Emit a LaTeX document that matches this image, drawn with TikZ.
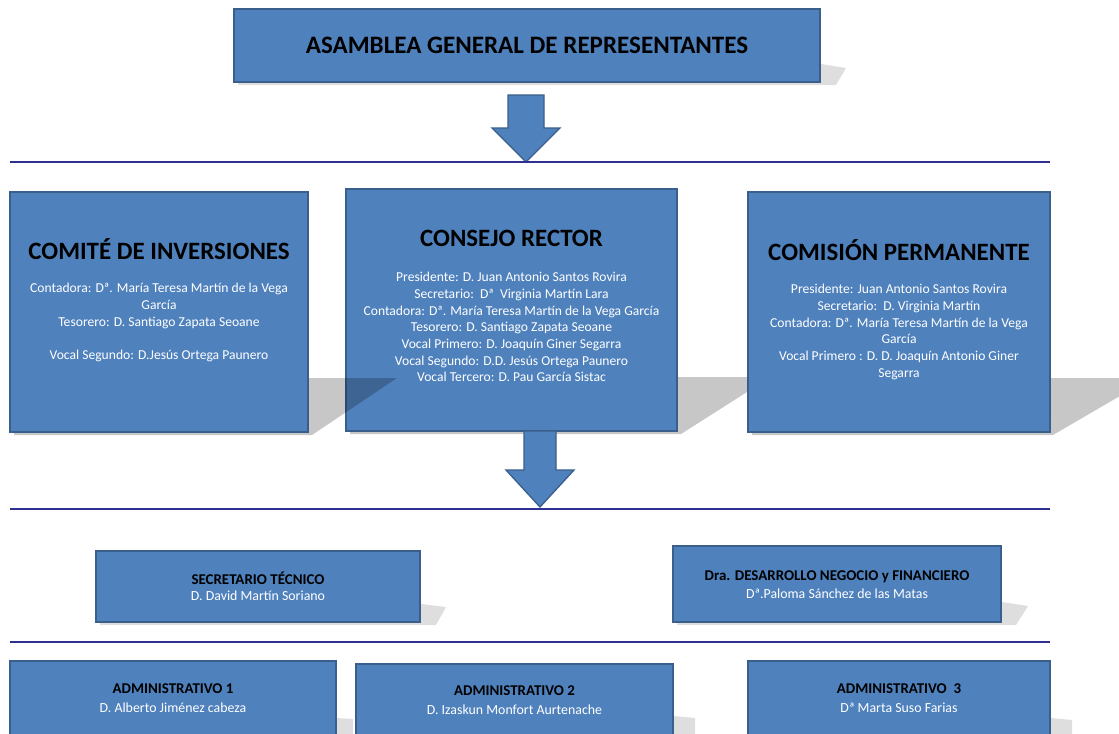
\documentclass[tikz,border=0pt]{standalone}
\usepackage{fontspec}
\setmainfont{Carlito}
\usetikzlibrary{positioning}

\definecolor{cajaazul}{HTML}{4F81BD}
\definecolor{bordeazul}{HTML}{3A5F8C}
\definecolor{lineaazul}{HTML}{2E3192}

\tikzset{
  caja/.style={draw=bordeazul,fill=cajaazul,line width=1.4pt,inner sep=0pt},
  sombra/.style={fill=black,fill opacity=0.22,draw=none},
  sombrita/.style={fill=black,fill opacity=0.13,draw=none},
  raya/.style={draw=lineaazul,line width=2.2pt},
  flecha/.style={draw=bordeazul,fill=cajaazul,line width=1pt,line join=miter},
  cabeza/.style={font=\bfseries\fontsize{18.7}{22}\selectfont,text=black,inner sep=0pt},
  cuerpo/.style={font=\fontsize{10.2}{12.5}\selectfont,text=white,align=center,inner sep=0pt,anchor=north},
  cabezita/.style={font=\bfseries\fontsize{11.2}{13}\selectfont,text=black,inner sep=0pt},
  nombre/.style={font=\fontsize{10.4}{12}\selectfont,text=white,inner sep=0pt}
}

\begin{document}
\begin{tikzpicture}[x=0.75pt,y=-0.75pt]
    \clip (0,0) rectangle (1119,733);
    \fill[white] (0,0) rectangle (1119,733);

    % asamblea
    \node[caja,minimum width=439.5pt,minimum height=54.75pt] (asamblea) at (527,45.5)
      {\bfseries\fontsize{18.8}{22}\selectfont ASAMBLEA GENERAL DE REPRESENTANTES};
    \fill[sombrita] (821,64) -- (846,68) -- (836,85) -- (238,85) -- (238,83) -- (821,83) -- cycle;
    \coordinate (punta1) at (526,162);
    \draw[flecha] (punta1) -- ++(-34,-34) -- ++(16,0) -- ++(0,-33) -- ++(36,0)
      -- ++(0,33) -- ++(16,0) -- cycle;
    \draw[raya] (10,162) -- (1050,162);

    % organos de gobierno
    \node[caja,minimum width=223.5pt,minimum height=180pt] (comite) at (159,312) {};
    \node[caja,minimum width=248.25pt,minimum height=181.5pt] (consejo) at (511.5,310) {};
    \node[caja,minimum width=226.5pt,minimum height=180pt] (comision) at (899,312) {};

    \node[cabeza] (comiteH) at (159,249) {COMITÉ DE INVERSIONES};
    \node[cuerpo] (comiteB) at (159,283) {Contadora: Dª. María Teresa Martín de la Vega\\García\\
      Tesorero: D. Santiago Zapata Seoane\\[12.5pt]Vocal Segundo: D.Jesús Ortega Paunero};

    \node[cabeza] (consejoH) at (511.5,238) {CONSEJO RECTOR};
    \node[cuerpo] (consejoB) at (511.5,272) {Presidente: D. Juan Antonio Santos Rovira\\
      Secretario:\ \ Dª\ \ Virginia Martín Lara\\
      Contadora: Dª. María Teresa Martín de la Vega García\\
      Tesorero: D. Santiago Zapata Seoane\\
      Vocal Primero: D. Joaquín Giner Segarra\\
      Vocal Segundo: D.D. Jesús Ortega Paunero\\
      Vocal Tercero: D. Pau García Sistac};

    \node[cabeza] (comisionH) at (899,250) {COMISIÓN PERMANENTE};
    \node[cuerpo] (comisionB) at (899,284) {Presidente: Juan Antonio Santos Rovira\\
      Secretario:\ \ D. Virginia Martín\\
      Contadora: Dª. María Teresa Martín de la Vega\\García\\
      Vocal Primero : D. D. Joaquín Antonio Giner\\Segarra};

    % sombras
    \fill[sombra] (comite.east |- 0,378) -- (397,378) -- (312,435) -- (14,435)
      -- (14,433) -- (309,433) -- cycle;
    \fill[sombra] (consejo.east |- 0,377) -- (747,377) -- (747,392) -- (681,434)
      -- (350,434) -- (350,432) -- (678,432) -- cycle;
    \fill[sombra] (comision.east |- 0,378) -- (1125,378) -- (1125,393) -- (1053,435)
      -- (752,435) -- (752,433) -- (1051,433) -- cycle;

    \coordinate (punta2) at (540,507);
    \draw[flecha] (punta2) -- ++(-34,-37) -- ++(18,0) -- ++(0,-39) -- ++(32,0)
      -- ++(0,39) -- ++(18,0) -- cycle;
    \draw[raya] (10,509) -- (1050,509);

    % direccion
    \node[caja,minimum width=243pt,minimum height=53.25pt] (secretario) at (258,586.5) {};
    \node[cabezita] (secretarioH) at (258,578) {SECRETARIO TÉCNICO};
    \node[nombre] (secretarioN) at (258,596) {D. David Martín\ Soriano};

    \node[caja,minimum width=246pt,minimum height=57pt] (dra) at (837,584) {};
    \node[cabezita] (draH) at (837,577) {Dra. DESARROLLO NEGOCIO y FINANCIERO};
    \node[nombre] (draN) at (837,594) {Dª.Paloma Sánchez de las Matas};

    \fill[sombrita] (421,604) -- (446,607) -- (436,625) -- (100,625) -- (100,623)
      -- (421,623) -- cycle;
    \fill[sombrita] (1002,602) -- (1028,606) -- (1016,625) -- (677,625) -- (677,623)
      -- (1002,623) -- cycle;

    \draw[raya] (10,642) -- (1050,642);

    % administrativos
    \node[caja,minimum width=244.5pt,minimum height=75pt] (adm1) at (173,711) {};
    \node[caja,minimum width=237.75pt,minimum height=75pt] (adm2) at (514.5,714) {};
    \node[caja,minimum width=226.5pt,minimum height=75pt] (adm3) at (899,711) {};

    \node[cabezita] (adm1H) at (173,689) {ADMINISTRATIVO 1};
    \node[nombre] (adm1N) at (173,708) {D. Alberto Jiménez cabeza};
    \node[cabezita] (adm2H) at (514.5,691) {ADMINISTRATIVO 2};
    \node[nombre] (adm2N) at (514.5,710) {D. Izaskun Monfort Aurtenache};
    \node[cabezita] (adm3H) at (899,689) {ADMINISTRATIVO\ \ 3};
    \node[nombre] (adm3N) at (899,708) {Dª Marta Suso Farias};

    \fill[sombrita] (337,718) -- (353,719) -- (353,740) -- (337,740) -- cycle;
    \fill[sombrita] (674,716) -- (695,718) -- (695,740) -- (674,740) -- cycle;
    \fill[sombrita] (1051,718) -- (1072,720) -- (1072,740) -- (1051,740) -- cycle;
\end{tikzpicture}
\end{document}
